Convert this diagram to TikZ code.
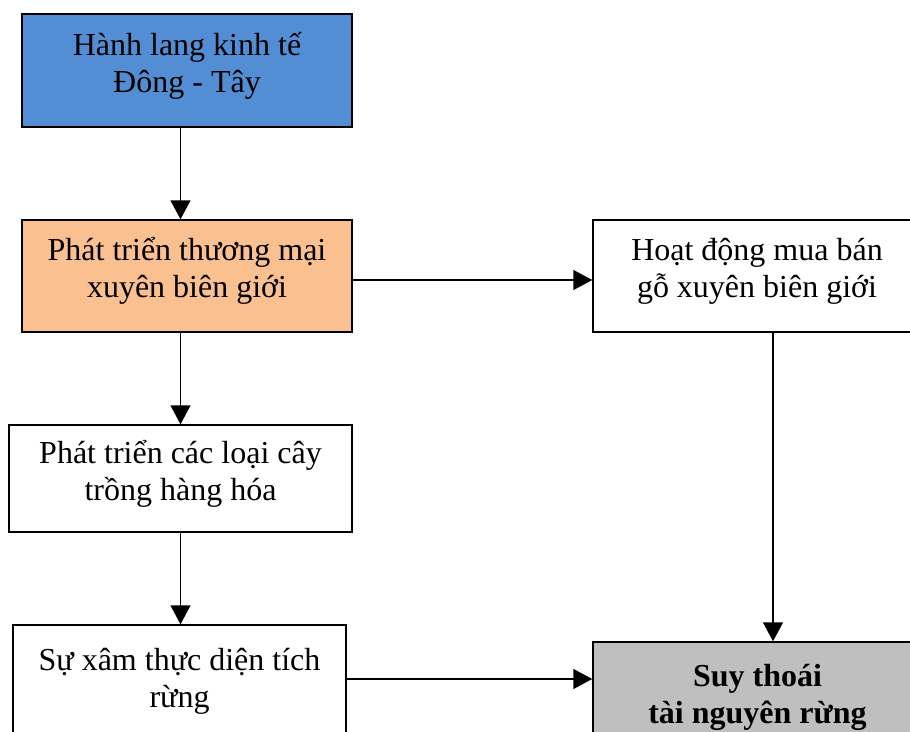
\documentclass[tikz,border=0pt]{standalone}
\usepackage{fontspec}
\setmainfont{Liberation Serif}
\usetikzlibrary{arrows.meta}
\definecolor{boxblue}{RGB}{83,142,213}
\definecolor{boxorange}{RGB}{250,192,144}
\definecolor{boxgray}{RGB}{191,191,191}
\tikzset{
  flowbox/.style={
    draw=black,
    line width=1.5pt,
    align=center,
    inner sep=0pt,
    text depth=17pt,
    font=\fontsize{32}{37}\selectfont
  },
  flow-arrow/.style={
    line width=1.5pt,
    -{Triangle[length=19pt,width=20pt]}
  }
}
\begin{document}
\begin{tikzpicture}[x=1pt,y=-1pt]
  \useasboundingbox (0,0) rectangle (910,731);
  \clip (0,0) rectangle (910,731);
  % Boxes
  \node[flowbox, fill=boxblue, minimum width=330pt, minimum height=113pt] (corridor) at (187,70.5)
    {Hành lang kinh tế\\Đông - Tây};
  \node[flowbox, fill=boxorange, minimum width=330pt, minimum height=112pt] (trade) at (187,276)
    {Phát triển thương mại\\xuyên biên giới};
  \node[flowbox, fill=white, minimum width=328pt, minimum height=112pt] (timber) at (757,276)
    {Hoạt động mua bán\\gỗ xuyên biên giới};
  \node[flowbox, fill=white, minimum width=343pt, minimum height=107pt] (crops) at (180.5,478.5)
    {Phát triển các loại cây\\trồng hàng hóa};
  \node[flowbox, fill=white, minimum width=333pt, minimum height=122pt] (encroach) at (179.5,686)
    {Sự xâm thực diện tích\\rừng};
  \node[flowbox, fill=boxgray, minimum width=329pt, minimum height=120pt, font=\fontsize{32}{37}\selectfont\bfseries] (decline) at (757.5,702)
    {Suy thoái\\tài nguyên rừng};
  % Connectors
  \draw[flow-arrow] (corridor.south -| crops.north) -- (trade.north -| crops.north);
  \draw[flow-arrow] (trade.south -| crops.north) -- (crops.north);
  \draw[flow-arrow] (crops.south) -- (crops.south |- encroach.north);
  \draw[flow-arrow] ([yshift=-4pt]trade.east) -- ([yshift=-4pt]trade.east -| timber.west);
  \draw[flow-arrow] ([xshift=16pt]timber.south) -- ([xshift=16pt]timber.south |- decline.north);
  \draw[flow-arrow] ([yshift=7pt]encroach.east) -- ([yshift=7pt]encroach.east -| decline.west);
\end{tikzpicture}
\end{document}
